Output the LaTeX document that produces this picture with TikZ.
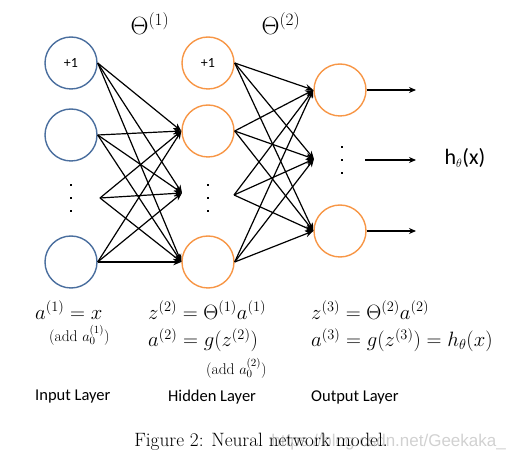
\documentclass[tikz,border=0pt]{standalone}
\usepackage{fontspec}
\newfontfamily\calib{Carlito}
\newfontfamily\wmfont{Liberation Sans}
\usetikzlibrary{arrows.meta}
\definecolor{inblue}{HTML}{4A6E9E}
\definecolor{hidorange}{HTML}{F79646}
\begin{document}
\begin{tikzpicture}[x=1pt,y=-1pt,
  neuron/.style={circle,draw,line width=1.4pt,minimum size=52pt,inner sep=0pt},
  inneuron/.style={neuron,draw=inblue},
  hidneuron/.style={neuron,draw=hidorange},
  conn/.style={line width=1.2pt,-{Stealth[length=8pt,width=6.5pt]}},
  outconn/.style={line width=1.2pt,-{Stealth[length=7pt,width=6pt]}},
  vdot/.style={fill=black,inner sep=0pt,minimum size=2.6pt,rectangle},
  biastext/.style={font=\calib\fontsize{14}{16}\selectfont},
  mathtext/.style={font=\fontsize{21.5}{25}\selectfont,inner sep=0pt},
  addtext/.style={font=\fontsize{15.5}{18}\selectfont,inner sep=0pt},
  layertext/.style={font=\calib\fontsize{16.5}{19}\selectfont,inner sep=0pt}]
\useasboundingbox (0,0) rectangle (512,462);
% input layer
\node[inneuron] (i1) at (71,63) {\calib\fontsize{14}{16}\selectfont +1};
\node[inneuron] (i2) at (71,135) {};
\node[inneuron] (i3) at (71,262) {};
\node[vdot] (id1) at (71,185) {};
\node[vdot] (id2) at (71,198) {};
\node[vdot] (id3) at (71,211) {};
\coordinate (idout) at (100,198);
% hidden layer
\node[hidneuron] (h1) at (208,63) {\calib\fontsize{14}{16}\selectfont +1};
\node[hidneuron] (h2) at (208,131) {};
\node[hidneuron] (h3) at (208,262) {};
\node[vdot] (hd1) at (208,185) {};
\node[vdot] (hd2) at (208,198) {};
\node[vdot] (hd3) at (208,211) {};
\coordinate (hdin) at (182,193);
\coordinate (hdout) at (234,195);
% output layer
\node[hidneuron] (o1) at (340,90) {};
\node[hidneuron] (o3) at (340,231) {};
\node[vdot] (od1) at (342,147) {};
\node[vdot] (od2) at (342,160) {};
\node[vdot] (od3) at (342,173) {};
\coordinate (odin) at (314,159);
\coordinate (odout) at (365,160);
% input -> hidden
\foreach \s in {i1.east,i2.east,idout,i3.east}
  \foreach \t in {h2.west,hdin,h3.west}
    \draw[conn] (\s) -- (\t);
% hidden -> output
\foreach \s in {h1.east,h2.east,hdout,h3.east}
  \foreach \t in {o1.west,odin,o3.west}
    \draw[conn] (\s) -- (\t);
% outputs
\coordinate (e1) at (416,90);
\coordinate (e2) at (416,160);
\coordinate (e3) at (416,231);
\draw[outconn] (o1.east) -- (e1);
\draw[outconn] (odout) -- (e2);
\draw[outconn] (o3.east) -- (e3);
\node[font=\calib\fontsize{22}{26}\selectfont,inner sep=0pt] (hx) at (465,158) {h\textsubscript{\fontsize{13}{15}\selectfont$\theta$}(x)};
% Theta labels
\node[font=\fontsize{25}{30}\selectfont,inner sep=0pt] (t1) at (150,24) {$\Theta^{(1)}$};
\node[font=\fontsize{25}{30}\selectfont,inner sep=0pt] (t2) at (281,24) {$\Theta^{(2)}$};
% equations
\node[mathtext,anchor=west] (eq1) at (35,310) {$a^{(1)}=x$};
\node[addtext,anchor=west] (ad1) at (49,335) {(add $a_0^{(1)}$)};
\node[mathtext,anchor=west] (eq2) at (148,310) {$z^{(2)}=\Theta^{(1)}a^{(1)}$};
\node[mathtext,anchor=west] (eq3) at (148,340) {$a^{(2)}=g(z^{(2)})$};
\node[addtext,anchor=west] (ad2) at (206,368) {(add $a_0^{(2)}$)};
\node[mathtext,anchor=west] (eq4) at (311,310) {$z^{(3)}=\Theta^{(2)}a^{(2)}$};
\node[mathtext,anchor=west] (eq5) at (311,340) {$a^{(3)}=g(z^{(3)})=h_\theta(x)$};
% layer names
\node[layertext,anchor=west] (l1) at (35,397) {Input Layer};
\node[layertext,anchor=west] (l2) at (168,397) {Hidden Layer};
\node[layertext,anchor=west] (l3) at (311,397) {Output Layer};
% watermark and caption
\node[font=\wmfont\fontsize{17}{20}\selectfont,text=black!18,anchor=east,inner sep=0pt] (wm) at (506,442) {https://blog.csdn.net/Geekaka\_};
\node[font=\fontsize{19.3}{23}\selectfont,inner sep=0pt] (cap) at (261,442) {Figure 2: Neural network model.};
\end{tikzpicture}
\end{document}
